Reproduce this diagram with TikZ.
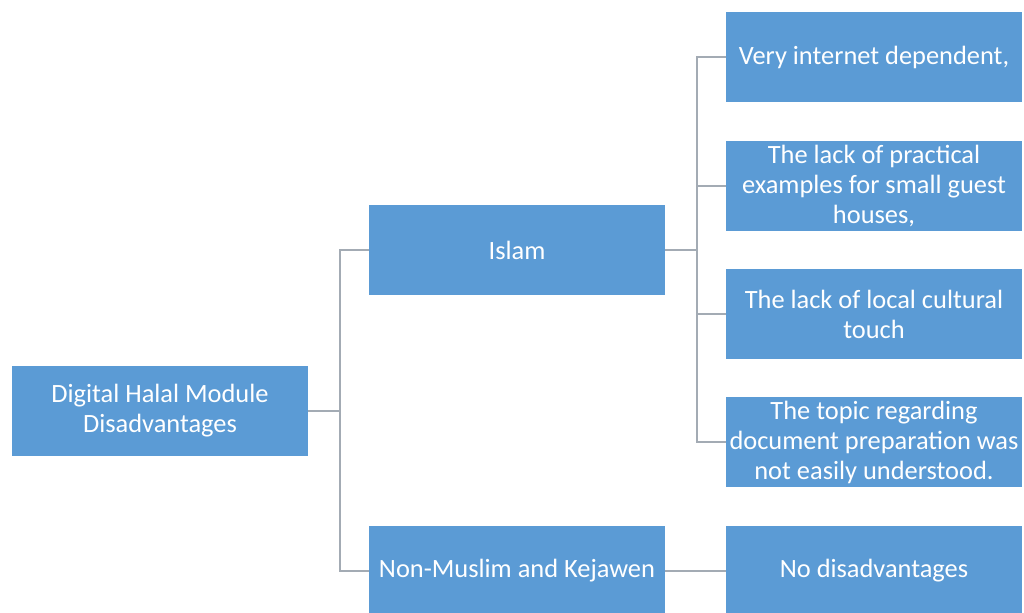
\documentclass[tikz,border=0pt]{standalone}
\usepackage{fontspec}
\setmainfont{Carlito}
\usepackage{xcolor}
\usepackage{tikz}
\usetikzlibrary{positioning}

\definecolor{boxblue}{HTML}{5B9BD5}
\definecolor{linkgray}{HTML}{A3ABB4}

\begin{document}
\begin{tikzpicture}[x=0.5pt,y=-0.5pt,
	box/.style={fill=boxblue,text=white,minimum width=148pt,minimum height=45pt,
		align=center,inner sep=0pt,font=\fontsize{13.2}{15}\selectfont},
	link/.style={draw=linkgray,line width=0.6pt}]
		\useasboundingbox (0,0) rectangle (1024,612);
		\node[box] (root) at (160,411) {Digital Halal Module\\Disadvantages};
		\node[box] (islam) at (517,250) {Islam};
		\node[box] (nonm) at (517,571) {Non-Muslim and Kejawen};
		%
		\node[box] (a) at (874,57) {Very internet dependent,};
		\node[box] (b) at (874,186) {The lack of practical\\examples for small guest\\houses,};
		\node[box] (c) at (874,314) {The lack of local cultural\\touch};
		\node[box] (d) at (874,442) {The topic regarding\\document preparation was\\not easily understood.};
		\node[box] (none) at (874,571) {No disadvantages};
		%
		\coordinate (j1) at (340,411);
		\coordinate (j2) at (697,250);
		\draw[link] (root.east) -- (j1) |- (islam.west);
		\draw[link] (j1) |- (nonm.west);
		\draw[link] (islam.east) -- (j2);
		\foreach \n in {a,b,c,d}
			\draw[link] (j2) |- (\n.west);
		\draw[link] (nonm.east) -- (none.west);
		\end{tikzpicture}
\end{document}
